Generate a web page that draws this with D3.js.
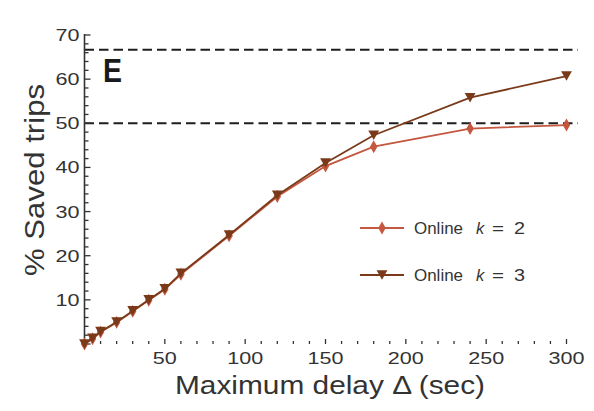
<!DOCTYPE html>
<html><head><meta charset="utf-8">
<script src="https://cdn.jsdelivr.net/npm/d3@7"></script>
<style>html,body{margin:0;padding:0;background:#fff;}svg{display:block;}</style>
</head><body>
<script>
const delays = [0, 5, 10, 20, 30, 40, 50, 60, 90, 120, 150, 180, 240, 300];
const onlineK2 = [0, 1.2, 2.7, 4.9, 7.4, 9.9, 12.4, 15.8, 24.5, 33.4, 40.3, 44.7, 48.8, 49.6];
const onlineK3 = [0, 1.3, 2.8, 5.0, 7.5, 10.0, 12.5, 16.0, 24.7, 33.7, 41.0, 47.3, 55.8, 60.7];
const refLines = [50, 66.67];
const yTickValues = [10, 20, 30, 40, 50, 60, 70];
const xTickValues = [50, 100, 150, 200, 250, 300];
const seriesNames = ["Online", "Online"];
const seriesK = ["2", "3"];

const W = 594, H = 411;
const svg = d3.select("body").append("svg").attr("width", W).attr("height", H);
const x = d3.scaleLinear().domain([0, 300]).range([84.5, 566.5]);
const y = d3.scaleLinear().domain([0, 70]).range([344, 35]);
const font = "Liberation Sans, Arial, Helvetica, sans-serif";
const txt = "#333";

// reference dashed lines
svg.selectAll("line.ref").data(refLines).join("line").attr("class", "ref")
  .attr("x1", x(0)).attr("x2", 578).attr("y1", d => y(d)).attr("y2", d => y(d))
  .attr("stroke", "#1e1e1e").attr("stroke-width", 2).attr("stroke-dasharray", "9.5,5");

// y axis line + ticks
const gy = svg.append("g");
gy.append("line").attr("x1", x(0)).attr("x2", x(0)).attr("y1", y(70) - 1).attr("y2", y(0))
  .attr("stroke", "#333").attr("stroke-width", 1.6);
gy.selectAll("line.t").data(d3.range(0, 71, 2)).join("line").attr("class", "t")
  .attr("x1", x(0)).attr("x2", d => x(0) + (d % 10 === 0 ? 6 : 4))
  .attr("y1", d => y(d)).attr("y2", d => y(d)).attr("stroke", "#333").attr("stroke-width", 1.3);
gy.selectAll("text").data(yTickValues).join("text")
  .attr("x", x(0) - 5).attr("y", d => y(d) + 6).attr("text-anchor", "end")
  .attr("font-family", font).attr("font-size", 17).attr("fill", txt)
  .attr("textLength", d => String(d).length * 12).attr("lengthAdjust", "spacingAndGlyphs")
  .text(d => d);

// x axis ticks (no baseline)
const gx = svg.append("g");
gx.selectAll("line").data(d3.range(10, 301, 10)).join("line")
  .attr("x1", d => x(d)).attr("x2", d => x(d))
  .attr("y1", y(0)).attr("y2", d => y(0) - (d % 50 === 0 ? 5 : 3))
  .attr("stroke", "#333").attr("stroke-width", 1.3);
gx.selectAll("text").data(xTickValues).join("text")
  .attr("x", d => x(d)).attr("y", 364).attr("text-anchor", "middle")
  .attr("font-family", font).attr("font-size", 17).attr("fill", txt)
  .attr("textLength", d => String(d).length * 12).attr("lengthAdjust", "spacingAndGlyphs")
  .text(d => d);

// axis titles
svg.append("text").attr("x", 330).attr("y", 394).attr("text-anchor", "middle")
  .attr("font-family", font).attr("font-size", 26).attr("fill", txt)
  .attr("textLength", 310).attr("lengthAdjust", "spacingAndGlyphs")
  .text("Maximum delay \u0394 (sec)");
svg.append("text").attr("transform", "translate(44,180) rotate(-90)").attr("text-anchor", "middle")
  .attr("font-family", font).attr("font-size", 27).attr("fill", txt)
  .attr("textLength", 192).attr("lengthAdjust", "spacingAndGlyphs")
  .text("% Saved trips");

// panel label
svg.append("text").attr("x", 103).attr("y", 82).attr("font-family", font)
  .attr("font-weight", "bold").attr("font-size", 34).attr("fill", "#1a1a1a")
  .attr("textLength", 19).attr("lengthAdjust", "spacingAndGlyphs").text("E");

// series
const colors = ["#c4573f", "#7a3a1a"];
const diamond = d3.symbol().type(d3.symbolDiamond).size(48);
const tri = () => { const w = 5.4, h = 4.8; return `M${-w},${-h}L${w},${-h}L0,${h}Z`; };
const line = d3.line().x(d => x(d[0])).y(d => y(d[1]));
const series = [onlineK2, onlineK3];
series.forEach((vals, i) => {
  const pts = delays.map((d, j) => [d, vals[j]]);
  const g = svg.append("g");
  g.append("path").datum(pts).attr("d", line).attr("fill", "none")
    .attr("stroke", colors[i]).attr("stroke-width", 1.8);
  g.selectAll("path.m").data(pts).join("path").attr("class", "m")
    .attr("transform", d => `translate(${x(d[0])},${y(d[1])})`)
    .attr("d", i === 0 ? diamond() : tri()).attr("fill", colors[i]);
});

// legend
const legY = [228, 275];
seriesK.forEach((k, i) => {
  const g = svg.append("g").attr("transform", `translate(0,${legY[i]})`);
  g.append("line").attr("x1", 360).attr("x2", 404).attr("y1", 0).attr("y2", 0)
    .attr("stroke", colors[i]).attr("stroke-width", 1.8);
  g.append("path").attr("transform", "translate(382,0)").attr("d", i === 0 ? diamond() : tri()).attr("fill", colors[i]);
  g.append("text").attr("x", 414).attr("y", 5.5).attr("font-family", font).attr("font-size", 16)
    .attr("fill", txt).attr("textLength", 49).attr("lengthAdjust", "spacingAndGlyphs").text(seriesNames[i]);
  g.append("text").attr("x", 476).attr("y", 5.5).attr("font-family", font).attr("font-size", 16.5)
    .attr("font-style", "italic").attr("fill", txt).text("k");
  g.append("text").attr("x", 492).attr("y", 5.5).attr("font-family", font).attr("font-size", 16)
    .attr("fill", txt).attr("textLength", 12).attr("lengthAdjust", "spacingAndGlyphs").text("=");
  g.append("text").attr("x", 514).attr("y", 5.5).attr("font-family", font).attr("font-size", 16)
    .attr("fill", txt).attr("textLength", 11).attr("lengthAdjust", "spacingAndGlyphs").text(k);
});
</script>
</body></html>
